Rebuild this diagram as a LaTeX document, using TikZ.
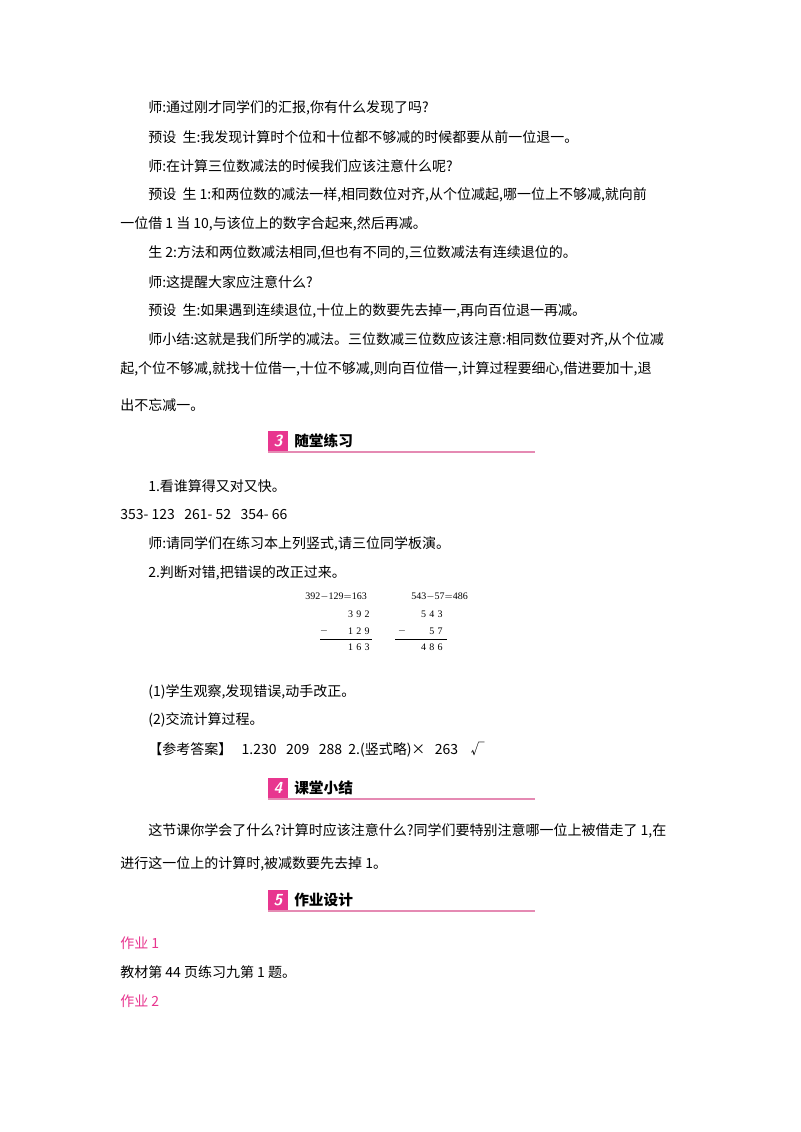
\documentclass[tikz,border=0pt]{standalone}
\usepackage{fontspec}
\setmainfont{Noto Sans CJK SC}
\newfontfamily\latinf{Liberation Serif}
\definecolor{pk}{HTML}{E8368F}
\definecolor{pkl}{HTML}{E58AB3}
\begin{document}
\begin{tikzpicture}[x=0.75pt,y=-0.75pt,
  ln/.style={anchor=west,inner sep=0pt,font=\fontsize{10.5}{12}\selectfont},
  sm/.style={inner sep=0pt,font=\latinf\fontsize{7.5}{9}\selectfont},
  hd/.style={anchor=west,inner sep=0pt,font=\bfseries\fontsize{11}{13}\selectfont}]
\useasboundingbox[fill=white] (0,0) rectangle (800,1132);
\node[ln] (l1) at (148,108) {师:通过刚才同学们的汇报,你有什么发现了吗?};
\node[ln] (l2) at (148,137) {预设\ \ 生:我发现计算时个位和十位都不够减的时候都要从前一位退一。};
\node[ln] (l3) at (148,166) {师:在计算三位数减法的时候我们应该注意什么呢?};
\node[ln] (l4) at (148,195) {预设\ \ 生 1:和两位数的减法一样,相同数位对齐,从个位减起,哪一位上不够减,就向前};
\node[ln] (l5) at (120,224) {一位借 1 当 10,与该位上的数字合起来,然后再减。};
\node[ln] (l6) at (148,253) {生 2:方法和两位数减法相同,但也有不同的,三位数减法有连续退位的。};
\node[ln] (l7) at (148,282) {师:这提醒大家应注意什么?};
\node[ln] (l8) at (148,311) {预设\ \ 生:如果遇到连续退位,十位上的数要先去掉一,再向百位退一再减。};
\node[ln] (l9) at (148,340) {师小结:这就是我们所学的减法。三位数减三位数应该注意:相同数位要对齐,从个位减};
\node[ln] (l10) at (120,369) {起,个位不够减,就找十位借一,十位不够减,则向百位借一,计算过程要细心,借进要加十,退};
\node[ln] (l11) at (120,405) {出不忘减一。};
% heading 3
\fill[pk] (268,431) rectangle (288,452);
\node[inner sep=0pt,text=white,font=\sffamily\bfseries\itshape\fontsize{12}{12}\selectfont] (n3) at (278,441) {3};
\node[hd] (h3) at (294,441) {随堂练习};
\draw[pkl,line width=0.8pt] (268,452) -- (535,452);
\node[ln] (l12) at (148,486) {1.看谁算得又对又快。};
\node[ln] (l13) at (120,515) {353- 123\ \ \ 261- 52\ \ \ 354- 66};
\node[ln] (l14) at (148,544) {师:请同学们在练习本上列竖式,请三位同学板演。};
\node[ln] (l15) at (148,573) {2.判断对错,把错误的改正过来。};
% vertical subtraction
\node[sm,anchor=west] (t1) at (305,597) {392$-$129$=$163};
\node[sm,anchor=west] (t2) at (411,597) {543$-$57$=$486};
\node[sm,anchor=east] (a1) at (370,614) {3\,\,9\,\,2};
\node[sm,anchor=east] (b1) at (370,631) {1\,\,2\,\,9};
\node[sm] (m1) at (324,631) {$-$};
\node[sm,anchor=east] (c1) at (370,647) {1\,\,6\,\,3};
\draw[line width=0.4pt] (320,639) -- (372,639);
\node[sm,anchor=east] (a2) at (443,614) {5\,\,4\,\,3};
\node[sm,anchor=east] (b2) at (443,631) {5\,\,7};
\node[sm] (m2) at (402,631) {$-$};
\node[sm,anchor=east] (c2) at (443,647) {4\,\,8\,\,6};
\draw[line width=0.4pt] (395,639) -- (447,639);
\node[ln] (l16) at (148,692) {(1)学生观察,发现错误,动手改正。};
\node[ln] (l17) at (148,720) {(2)交流计算过程。};
\node[ln] (l18) at (148,750) {【参考答案】\ \ \ 1.230\ \ \ 209\ \ \ 288\ \ 2.(竖式略)×\ \ \ 263\ \ \ \ √};
% heading 4
\fill[pk] (268,778) rectangle (288,799);
\node[inner sep=0pt,text=white,font=\sffamily\bfseries\itshape\fontsize{12}{12}\selectfont] (n4) at (278,788) {4};
\node[hd] (h4) at (294,788) {课堂小结};
\draw[pkl,line width=0.8pt] (268,799) -- (535,799);
\node[ln] (l19) at (148,831) {这节课你学会了什么?计算时应该注意什么?同学们要特别注意哪一位上被借走了 1,在};
\node[ln] (l20) at (120,864) {进行这一位上的计算时,被减数要先去掉 1。};
% heading 5
\fill[pk] (268,890) rectangle (288,911);
\node[inner sep=0pt,text=white,font=\sffamily\bfseries\itshape\fontsize{12}{12}\selectfont] (n5) at (278,900) {5};
\node[hd] (h5) at (294,900) {作业设计};
\draw[pkl,line width=0.8pt] (268,911) -- (535,911);
\node[ln,text=pk] (l21) at (120,943) {作业 1};
\node[ln] (l22) at (120,972) {教材第 44 页练习九第 1 题。};
\node[ln,text=pk] (l23) at (120,1001) {作业 2};
\end{tikzpicture}
\end{document}
